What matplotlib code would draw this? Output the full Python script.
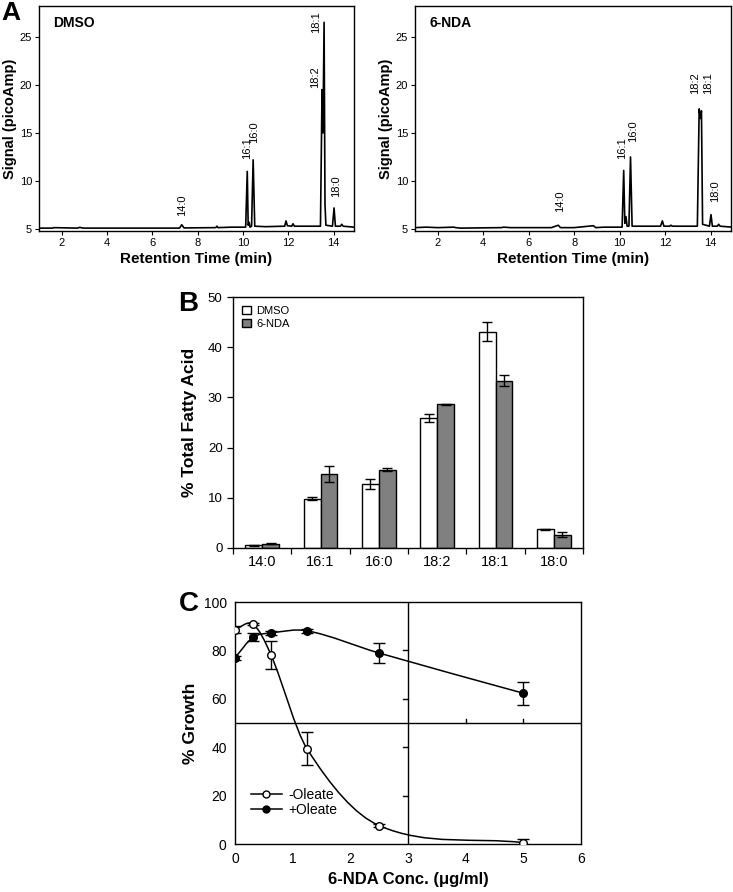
import matplotlib
matplotlib.use("Agg")
import matplotlib.pyplot as plt
from matplotlib.path import Path
from matplotlib.patches import PathPatch
from matplotlib.lines import Line2D
import numpy as np

plt.rcParams['font.family'] = ['Liberation Sans', 'DejaVu Sans']

# ---------------- Panel A data (chromatogram traces) -------------
dmso_t = [1.0, 1.6, 1.65, 2.7, 2.8, 2.9, 3.0, 7.2, 7.3, 7.4, 8.8, 8.85, 8.9, 9.5, 10.12,
          10.19, 10.23, 10.27, 10.31, 10.38, 10.45, 10.52, 11.0, 11.84, 11.9, 11.96,
          12.15, 12.21, 12.27, 13.42, 13.49, 13.53, 13.58, 13.62, 13.66, 13.95, 14.02,
          14.08, 14.3, 14.36, 14.42, 14.9]
dmso_s = [5.1, 5.1, 5.15, 5.1, 5.18, 5.12, 5.1, 5.1, 5.45, 5.12, 5.15, 5.3, 5.15, 5.2, 5.2,
          11.0, 5.4, 5.7, 5.2, 5.3, 12.2, 5.3, 5.25, 5.3, 5.85, 5.35,
          5.3, 5.55, 5.3, 5.3, 19.5, 15.0, 26.5, 7.6, 5.4, 5.3, 7.2,
          5.3, 5.3, 5.5, 5.3, 5.2]

nda_t = [1.0, 1.5, 2.0, 2.7, 2.8, 3.0, 4.8, 4.9, 5.2, 7.0, 7.3, 7.4, 8.0, 8.85, 8.95, 9.3,
         10.11, 10.18, 10.23, 10.28, 10.33, 10.41, 10.48, 10.55, 11.8, 11.88, 11.95,
         12.2, 12.26, 12.32, 13.42, 13.5, 13.55, 13.6, 13.65, 13.95, 14.02, 14.08,
         14.3, 14.36, 14.42, 14.95]
nda_s = [5.15, 5.2, 5.15, 5.2, 5.15, 5.1, 5.15, 5.2, 5.15, 5.15, 5.4, 5.15, 5.15, 5.35, 5.15, 5.2,
         5.2, 11.1, 5.6, 6.3, 5.3, 5.3, 12.5, 5.3, 5.3, 5.85, 5.3,
         5.3, 5.4, 5.3, 5.3, 17.5, 16.5, 17.3, 5.5, 5.3, 6.5, 5.3,
         5.3, 5.5, 5.3, 5.2]

peak_names = ['14:0', '16:1', '16:0', '18:2', '18:1', '18:0']
dmso_label_x = [7.3, 10.2, 10.5, 13.2, 13.22, 14.1]
dmso_label_y = [6.4, 12.3, 14.0, 19.7, 25.4, 8.3]
nda_label_x = [7.38, 10.12, 10.6, 13.3, 13.9, 14.2]
nda_label_y = [6.8, 12.3, 14.1, 19.0, 19.0, 7.8]

# ---------------- Panel B data ----------------
fa_cats = ['14:0', '16:1', '16:0', '18:2', '18:1', '18:0']
dmso_pct = [0.5, 9.8, 12.7, 25.9, 43.1, 3.7]
dmso_err = [0.05, 0.3, 1.0, 0.85, 1.9, 0.05]
nda_pct = [0.8, 14.7, 15.6, 28.6, 33.3, 2.6]
nda_err = [0.1, 1.55, 0.28, 0.13, 1.1, 0.5]

# ---------------- Panel C data ----------------
conc = [0, 0.3125, 0.625, 1.25, 2.5, 5.0]
minus_oleate = [88.6, 90.8, 78.1, 39.3, 7.6, 0.55]
minus_err = [1.3, 0.5, 5.9, 6.8, 0.7, 1.6]
plus_oleate = [77.0, 85.4, 87.2, 88.1, 78.9, 62.3]
plus_err = [0.8, 1.7, 0.8, 0.8, 4.3, 4.7]

W, H = 733, 892
fig = plt.figure(figsize=(W / 100, H / 100), dpi=100)


def ax_px(x0, y0, x1, y1):
    return fig.add_axes([x0 / W, 1 - y1 / H, (x1 - x0) / W, (y1 - y0) / H])


# ---------------- Panel A ----------------
def chrom(ax, t, s, title, lx, ly):
    ax.plot(t, s, color='black', lw=1.2)
    ax.set_xlim(1.0, 14.9)
    ax.set_ylim(4.8, 28.2)
    ax.set_xticks([2, 4, 6, 8, 10, 12, 14])
    ax.set_yticks([5, 10, 15, 20, 25])
    ax.tick_params(labelsize=8, length=3, width=0.8, pad=2, color='black')
    for sp in ax.spines.values():
        sp.set_linewidth(1.0)
    ax.set_xlabel('Retention Time (min)', fontsize=11, fontweight='bold', labelpad=3)
    ax.set_ylabel('Signal (picoAmp)', fontsize=10.5, fontweight='bold', labelpad=2)
    ax.text(0.045, 0.925, title, transform=ax.transAxes, fontsize=10,
            fontweight='bold', va='center', ha='left')
    for name, x, y in zip(peak_names, lx, ly):
        ax.text(x, y, name, rotation=90, ha='center', va='bottom', fontsize=8)


axA1 = ax_px(39, 6, 354, 231)
chrom(axA1, dmso_t, dmso_s, 'DMSO', dmso_label_x, dmso_label_y)
axA2 = ax_px(415, 6, 731, 231)
chrom(axA2, nda_t, nda_s, '6-NDA', nda_label_x, nda_label_y)

fig.text(1 / W, 1 - 13 / H, 'A', fontsize=19, fontweight='bold', va='center', ha='left')

# ---------------- Panel B ----------------
axB = ax_px(233, 297, 583, 548)
xb = np.arange(len(fa_cats))
bw = 0.29
axB.bar(xb - bw / 2, dmso_pct, bw, color='white', edgecolor='black', lw=1.0,
        yerr=dmso_err, capsize=3.5, error_kw=dict(elinewidth=1.0, capthick=1.0),
        label='DMSO', zorder=2)
axB.bar(xb + bw / 2, nda_pct, bw, color='#808080', edgecolor='black', lw=1.0,
        yerr=nda_err, capsize=3.5, error_kw=dict(elinewidth=1.0, capthick=1.0),
        label='6-NDA', zorder=2)
axB.set_xlim(-0.5, 5.5)
axB.set_ylim(0, 50)
axB.set_yticks([0, 10, 20, 30, 40, 50])
axB.set_xticks(np.arange(-0.5, 6, 1.0))
axB.set_xticklabels([])
axB.set_xticks(xb, minor=True)
axB.set_xticklabels(fa_cats, minor=True, fontsize=10.5)
axB.tick_params(axis='x', which='minor', length=0, pad=5)
axB.tick_params(axis='x', which='major', length=4, width=0.9)
axB.tick_params(axis='y', labelsize=9.5, length=4, width=0.9)
for sp in axB.spines.values():
    sp.set_linewidth(1.0)
axB.set_ylabel('% Total Fatty Acid', fontsize=12.5, fontweight='bold', labelpad=8)
axB.legend(loc='upper left', frameon=False, fontsize=8, handlelength=0.8,
           handleheight=0.8, handletextpad=0.5, borderaxespad=0.4, labelspacing=0.25,
           bbox_to_anchor=(0.0, 1.0))
fig.text(178 / W, 1 - 304 / H, 'B', fontsize=20, fontweight='bold', va='center', ha='left')

# ---------------- Panel C ----------------
axC = ax_px(235, 602, 581, 844)


def hermite_path(xs, ys):
    xs = np.asarray(xs, float)
    ys = np.asarray(ys, float)
    n = len(xs)
    m = np.zeros(n)
    for i in range(n):
        if i == 0:
            m[i] = (ys[1] - ys[0]) / (xs[1] - xs[0])
        elif i == n - 1:
            m[i] = (ys[-1] - ys[-2]) / (xs[-1] - xs[-2])
        else:
            m[i] = (ys[i + 1] - ys[i - 1]) / (xs[i + 1] - xs[i - 1])
    verts = [(xs[0], ys[0])]
    codes = [Path.MOVETO]
    for i in range(n - 1):
        h = xs[i + 1] - xs[i]
        verts += [(xs[i] + h / 3, ys[i] + m[i] * h / 3),
                  (xs[i + 1] - h / 3, ys[i + 1] - m[i + 1] * h / 3),
                  (xs[i + 1], ys[i + 1])]
        codes += [Path.CURVE4] * 3
    return Path(verts, codes)


axC.add_patch(PathPatch(hermite_path(conc, minus_oleate), fill=False, lw=1.1,
                        edgecolor='black', zorder=3))
axC.add_patch(PathPatch(hermite_path(conc, plus_oleate), fill=False, lw=1.1,
                        edgecolor='black', zorder=3))
axC.errorbar(conc, minus_oleate, yerr=minus_err, fmt='o', ms=5.5, mfc='white',
             mec='black', mew=1.0, ecolor='black', elinewidth=1.0, capsize=4,
             capthick=1.0, zorder=5)
axC.errorbar(conc, plus_oleate, yerr=plus_err, fmt='o', ms=5.5, mfc='black',
             mec='black', mew=1.0, ecolor='black', elinewidth=1.0, capsize=4,
             capthick=1.0, zorder=4)
axC.set_xlim(0, 6)
axC.set_ylim(0, 100)
axC.set_xticks([0, 1, 2, 3, 4, 5, 6])
axC.set_yticks([0, 20, 40, 60, 80, 100])
axC.tick_params(length=0, labelsize=10, pad=6)
for sp in axC.spines.values():
    sp.set_linewidth(1.0)
axC.axhline(50, color='black', lw=1.0, zorder=2)
axC.axvline(3, color='black', lw=1.0, zorder=2)
# tick marks on the crossing axis lines
for xv in [4, 5]:
    axC.plot([xv, xv], [50, 51.8], color='black', lw=1.0, zorder=2)
for yv in [20, 40, 60, 80]:
    axC.plot([3, 2.92], [yv, yv], color='black', lw=1.0, zorder=2)
axC.set_ylabel('% Growth', fontsize=12.5, fontweight='bold', labelpad=4)
axC.set_xlabel('6-NDA Conc. (\u03bcg/ml)', fontsize=12, fontweight='bold', labelpad=4)
h1 = Line2D([], [], color='black', lw=1.1, marker='o', ms=5, mfc='white', mec='black')
h2 = Line2D([], [], color='black', lw=1.1, marker='o', ms=5, mfc='black', mec='black')
axC.legend([h1, h2], ['-Oleate', '+Oleate'], loc='lower left', frameon=False,
           fontsize=10, handlelength=2.2, handletextpad=0.5, labelspacing=0.1,
           bbox_to_anchor=(0.01, 0.06))
fig.text(179 / W, 1 - 604 / H, 'C', fontsize=20, fontweight='bold', va='center', ha='left')

fig.savefig('out.png', dpi=100)
